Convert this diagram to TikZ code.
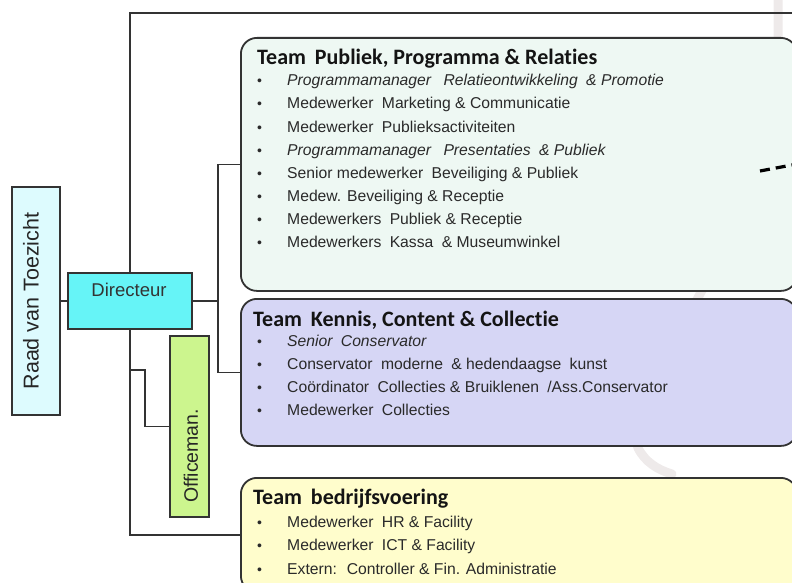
\documentclass[tikz,border=0pt]{standalone}
\usepackage{fontspec}
\setmainfont{Liberation Sans}
\newfontfamily\titlefont[Ligatures={NoCommon}]{Carlito}
\usetikzlibrary{calc}
\definecolor{linec}{HTML}{333333}
\definecolor{itemc}{HTML}{2A2A2A}
\definecolor{tonefill}{HTML}{EEF8F3}
\definecolor{ttwofill}{HTML}{D6D6F5}
\definecolor{tthreefill}{HTML}{FFFDCC}
\definecolor{dirfill}{HTML}{66F4F7}
\definecolor{raadfill}{HTML}{DDFBFE}
\definecolor{offfill}{HTML}{CCF58E}
\definecolor{wmark}{HTML}{EEEAEA}
\newcommand{\gp}{\hspace{4pt}}
\tikzset{
  conn/.style={draw=linec, line width=1.8pt},
  teambox/.style={draw=linec, line width=1.8pt, rounded corners=16pt, anchor=north west, inner sep=0pt},
  plainbox/.style={draw=linec, line width=1.8pt, inner sep=0pt},
  ttl/.style={anchor=base west, inner sep=0pt, font=\titlefont\bfseries\fontsize{22}{22}\selectfont, text=black!92},
  itm/.style={anchor=base west, inner sep=0pt, font=\fontsize{15.7}{15.7}\selectfont, text=itemc},
  bul/.style={anchor=base west, inner sep=0pt, font=\fontsize{14}{14}\selectfont, text=itemc},
}
\begin{document}
\begin{tikzpicture}[x=1pt,y=-1pt]
\useasboundingbox (0,0) rectangle (792,583);
% watermark
\draw[wmark, line width=9pt, line cap=round] (778,-10) -- (778,40) .. controls (778,170) and (730,240) .. (700,294) .. controls (670,350) and (625,410) .. (638,448) .. controls (645,462) and (658,470) .. (672,474);
% boxes
\node[teambox, fill=tonefill, minimum width=556pt, minimum height=253pt] (t1) at (240,37) {};
\node[teambox, fill=ttwofill, minimum width=556pt, minimum height=147pt] (t2) at (240,298) {};
\node[teambox, fill=tthreefill, minimum width=556pt, minimum height=114pt] (t3) at (240,477) {};
\node[plainbox, fill=raadfill, minimum width=48pt, minimum height=228pt] (raad) at (36,301) {};
\node[plainbox, fill=dirfill, minimum width=124pt, minimum height=56pt] (dir) at (130,301) {};
\node[plainbox, fill=offfill, minimum width=39pt, minimum height=181pt] (off) at (189.5,426.5) {};
% box texts
\node[rotate=90, inner sep=0pt, font=\fontsize{21.5}{21.5}\selectfont, text=black!85] (raadtxt) at (31,301) {Raad van Toezicht};
\node[inner sep=0pt, font=\fontsize{18.5}{18.5}\selectfont, text=black!80] (dirtxt) at (129,290) {Directeur};
\node[rotate=90, inner sep=0pt, font=\fontsize{19.5}{19.5}\selectfont, text=black!85] (offtxt) at (191,456) {Officeman.};
% connectors
\coordinate (topend) at (796,13);
\draw[conn] (dir.north) |- (topend);
\draw[conn] (raad.east) -- (dir.west);
\draw[conn] (dir.east) -- ++(25,0) |- (t1.west);
\draw[conn] (dir.east) -- ++(25,0) |- (t2.west);
\draw[conn] (dir.south) |- (t3.west);
\draw[conn] (dir.south) ++(0,40) -- ++(15,0) |- (off.west);
% dashed fragment
\coordinate (da) at (760,171);
\coordinate (db) at (792,165);
\draw[black, line width=3.2pt, dash pattern=on 10pt off 6pt] (da) -- (db);
% team 1
\node[ttl] (t1h) at (257,65) {Team\gp{} Publiek, Programma \& Relaties};
\foreach \y/\t [count=\i] in {
  86/{\itshape Programmamanager\gp\gp{} Relatieontwikkeling\gp{} \& Promotie},
  109/{Medewerker\gp{} Marketing \& Communicatie},
  132/{Medewerker\gp{} Publieksactiviteiten},
  155/{\itshape Programmamanager\gp\gp{} Presentaties\gp{} \& Publiek},
  178/{Senior medewerker\gp{} Beveiliging \& Publiek},
  201/{Medew. Beveiliging \& Receptie},
  224/{Medewerkers\gp{} Publiek \& Receptie},
  247/{Medewerkers\gp{} Kassa\gp{} \& Museumwinkel}}
{
  \node[bul] (t1b\i) at (257,\y) {•};
  \node[itm] (t1i\i) at (287,\y) {\t};
}
% team 2
\node[ttl] (t2h) at (253,326) {Team\gp{} Kennis, Content \& Collectie};
\foreach \y/\t [count=\i] in {
  346/{\itshape Senior\gp{} Conservator},
  369/{Conservator\gp{} moderne\gp{} \& hedendaagse\gp{} kunst},
  392/{Coördinator\gp{} Collecties \& Bruiklenen\gp{} /Ass.Conservator},
  415/{Medewerker\gp{} Collecties}}
{
  \node[bul] (t2b\i) at (257,\y) {•};
  \node[itm] (t2i\i) at (287,\y) {\t};
}
% team 3
\node[ttl] (t3h) at (253,504) {Team\gp{} bedrijfsvoering};
\foreach \y/\t [count=\i] in {
  527/{Medewerker\gp{} HR \& Facility},
  550/{Medewerker\gp{} ICT \& Facility},
  574/{Extern:\gp{} Controller \& Fin. Administratie}}
{
  \node[bul] (t3b\i) at (257,\y) {•};
  \node[itm] (t3i\i) at (287,\y) {\t};
}
\end{tikzpicture}
\end{document}
